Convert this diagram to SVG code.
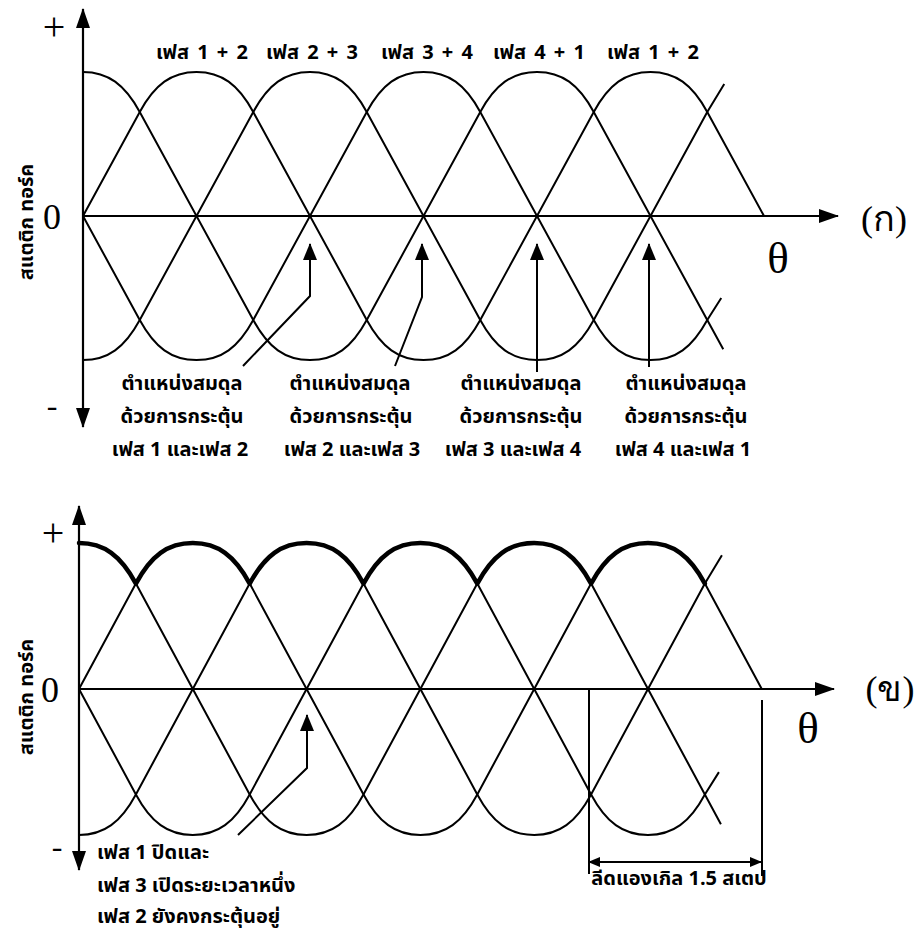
<svg xmlns="http://www.w3.org/2000/svg" width="922" height="934" viewBox="0 0 922 934">
<style>
.w{fill:none;stroke:#000;stroke-width:2;stroke-linejoin:round}
.env{fill:none;stroke:#000;stroke-width:4.5;stroke-linecap:round;stroke-linejoin:round}
.ax{stroke:#000;stroke-width:2.2;fill:none}
.ln{stroke:#000;stroke-width:2;fill:none}
.th{font-family:"Noto Sans Thai","Noto Serif Thai","Loma","Garuda","Noto Sans","DejaVu Sans",sans-serif;font-weight:bold;font-size:20px;fill:#000}
.sym{font-family:"Liberation Serif",serif;fill:#000}
</style>
<defs>
<marker id="ah" markerUnits="userSpaceOnUse" viewBox="0 0 20 14" markerWidth="20" markerHeight="14" refX="19" refY="7" orient="auto-start-reverse"><path d="M0,0 L20,7 L0,14 z" fill="#000"/></marker>
<marker id="ph" markerUnits="userSpaceOnUse" viewBox="0 0 17 14" markerWidth="17" markerHeight="14" refX="16" refY="7" orient="auto"><path d="M0,0 L17,7 L0,14 z" fill="#000"/></marker>
<marker id="dh" markerUnits="userSpaceOnUse" viewBox="0 0 12 10" markerWidth="12" markerHeight="10" refX="11" refY="5" orient="auto-start-reverse"><path d="M0,0 L12,5 L0,10 z" fill="#000"/></marker>
<path id="wC" d="M0,-144 c25,0 41.75,12.5 56.75,40 l113.5,208 c15,27.5 31.75,40 56.75,40 c25,0 41.75,-12.5 56.75,-40 l113.5,-208 c15,-27.5 31.75,-40 56.75,-40 c25,0 41.75,12.5 56.75,40 l113.5,208 l16,29.3"/>
<path id="wS" d="M0,0 l56.75,-104 c15,-27.5 31.75,-40 56.75,-40 c25,0 41.75,12.5 56.75,40 l113.5,208 c15,27.5 31.75,40 56.75,40 c25,0 41.75,-12.5 56.75,-40 l113.5,-208 c15,-27.5 31.75,-40 56.75,-40 c25,0 41.75,12.5 56.75,40 l56.75,104"/>
<path id="wNC" d="M0,144 c25,0 41.75,-12.5 56.75,-40 l113.5,-208 c15,-27.5 31.75,-40 56.75,-40 c25,0 41.75,12.5 56.75,40 l113.5,208 c15,27.5 31.75,40 56.75,40 c25,0 41.75,-12.5 56.75,-40 l113.5,-208 l17,-28"/>
<path id="wNS" d="M0,0 l56.75,104 c15,27.5 31.75,40 56.75,40 c25,0 41.75,-12.5 56.75,-40 l113.5,-208 c15,-27.5 31.75,-40 56.75,-40 c25,0 41.75,12.5 56.75,40 l113.5,208 c15,27.5 31.75,40 56.75,40 c25,0 41.75,-12.5 56.75,-40 l14,-22"/>
</defs>

<g id="chart-a">
<g id="waves-a" class="w">
<use href="#wC" transform="translate(83,216)"/>
<use href="#wS" transform="translate(83,216)"/>
<use href="#wNC" transform="translate(83,216)"/>
<use href="#wNS" transform="translate(83,216)"/>
</g>
<line class="ax" x1="83" y1="427" x2="83" y2="9" marker-start="url(#ah)" marker-end="url(#ah)"/>
<line class="ax" x1="83" y1="216" x2="838" y2="216" marker-end="url(#ah)"/>
<text class="sym" x="54" y="40" font-size="40" text-anchor="middle">+</text>
<text class="sym" x="52" y="229" font-size="36" text-anchor="middle">0</text>
<text class="sym" x="52" y="416" font-size="32" text-anchor="middle">-</text>
<text class="sym" x="778" y="273" font-size="45" text-anchor="middle">θ</text>
<text class="sym" x="884" y="231" font-size="36" text-anchor="middle">(ก)</text>
<text class="th" transform="translate(33,222) rotate(-90)" text-anchor="middle" font-size="23">สแตติก ทอร์ค</text>
</g>

<g id="phase-labels" class="th" text-anchor="middle" font-size="19" word-spacing="3">
<text x="202" y="59">เฟส 1 + 2</text>
<text x="312" y="59">เฟส 2 + 3</text>
<text x="427" y="59">เฟส 3 + 4</text>
<text x="539" y="59">เฟส 4 + 1</text>
<text x="653" y="59">เฟส 1 + 2</text>
</g>

<g id="note-1" class="th" text-anchor="middle">
<text x="182" y="390">ตำแหน่งสมดุล</text>
<text x="182" y="423">ด้วยการกระตุ้น</text>
<text x="180" y="456">เฟส 1 และเฟส 2</text>
</g>
<g id="note-2" class="th" text-anchor="middle">
<text x="350" y="390">ตำแหน่งสมดุล</text>
<text x="351" y="423">ด้วยการกระตุ้น</text>
<text x="352" y="456">เฟส 2 และเฟส 3</text>
</g>
<g id="note-3" class="th" text-anchor="middle">
<text x="521" y="390">ตำแหน่งสมดุล</text>
<text x="521" y="423">ด้วยการกระตุ้น</text>
<text x="513" y="456">เฟส 3 และเฟส 4</text>
</g>
<g id="note-4" class="th" text-anchor="middle">
<text x="686" y="390">ตำแหน่งสมดุล</text>
<text x="686" y="423">ด้วยการกระตุ้น</text>
<text x="683" y="456">เฟส 4 และเฟส 1</text>
</g>

<g id="chart-b">
<g id="waves-b" class="w">
<use href="#wC" transform="translate(79,689) scale(1.0026,1.0139)"/>
<use href="#wS" transform="translate(79,689) scale(1.0026,1.0139)"/>
<use href="#wNC" transform="translate(79,689) scale(1.0026,1.0139)"/>
<use href="#wNS" transform="translate(79,689) scale(1.0026,1.0139)"/>
</g>
<path class="env" transform="translate(79,689) scale(1.0026,1.0139)" d="M0,-144 c25,0 41.75,12.5 56.75,40 c15,-27.5 31.75,-40 56.75,-40 c25,0 41.75,12.5 56.75,40 c15,-27.5 31.75,-40 56.75,-40 c25,0 41.75,12.5 56.75,40 c15,-27.5 31.75,-40 56.75,-40 c25,0 41.75,12.5 56.75,40 c15,-27.5 31.75,-40 56.75,-40 c25,0 41.75,12.5 56.75,40 c15,-27.5 31.75,-40 56.75,-40 c25,0 41.75,12.5 56.75,40"/>
<line class="ax" x1="79" y1="870" x2="79" y2="506" marker-start="url(#ah)" marker-end="url(#ah)"/>
<line class="ax" x1="79" y1="689" x2="834" y2="689" marker-end="url(#ah)"/>
<text class="sym" x="53" y="546" font-size="40" text-anchor="middle">+</text>
<text class="sym" x="50" y="702" font-size="36" text-anchor="middle">0</text>
<text class="sym" x="57" y="857" font-size="32" text-anchor="middle">-</text>
<text class="sym" x="808" y="743" font-size="45" text-anchor="middle">θ</text>
<text class="sym" x="890" y="701" font-size="36" text-anchor="middle">(ข)</text>
<text class="th" transform="translate(33,697) rotate(-90)" text-anchor="middle" font-size="23">สแตติก ทอร์ค</text>
<line class="ln" x1="589" y1="690" x2="589" y2="874"/>
<line class="ln" x1="762" y1="700" x2="762" y2="876"/>
</g>

<g id="note-5" class="th" font-size="22">
<text x="97" y="859">เฟส 1 ปิดและ</text>
<text x="97" y="892">เฟส 3 เปิดระยะเวลาหนึ่ง</text>
<text x="97" y="923">เฟส 2 ยังคงกระตุ้นอยู่</text>
</g>
<g id="dim-label" class="th" font-size="14" text-anchor="middle">
<text x="679" y="885">ลีดแองเกิล 1.5 สเตป</text>
</g>

<g id="connectors" class="ln">
<polyline points="243,366 310,296 310,244" marker-end="url(#ph)"/>
<polyline points="395,366 422,297 422,244" marker-end="url(#ph)"/>
<polyline points="537,372 537,244" marker-end="url(#ph)"/>
<polyline points="649,367 649,244" marker-end="url(#ph)"/>
<polyline points="238,835 307,768 307,715" marker-end="url(#ph)"/>
<line x1="589" y1="862" x2="761" y2="862" marker-start="url(#dh)" marker-end="url(#dh)"/>
</g>
</svg>
